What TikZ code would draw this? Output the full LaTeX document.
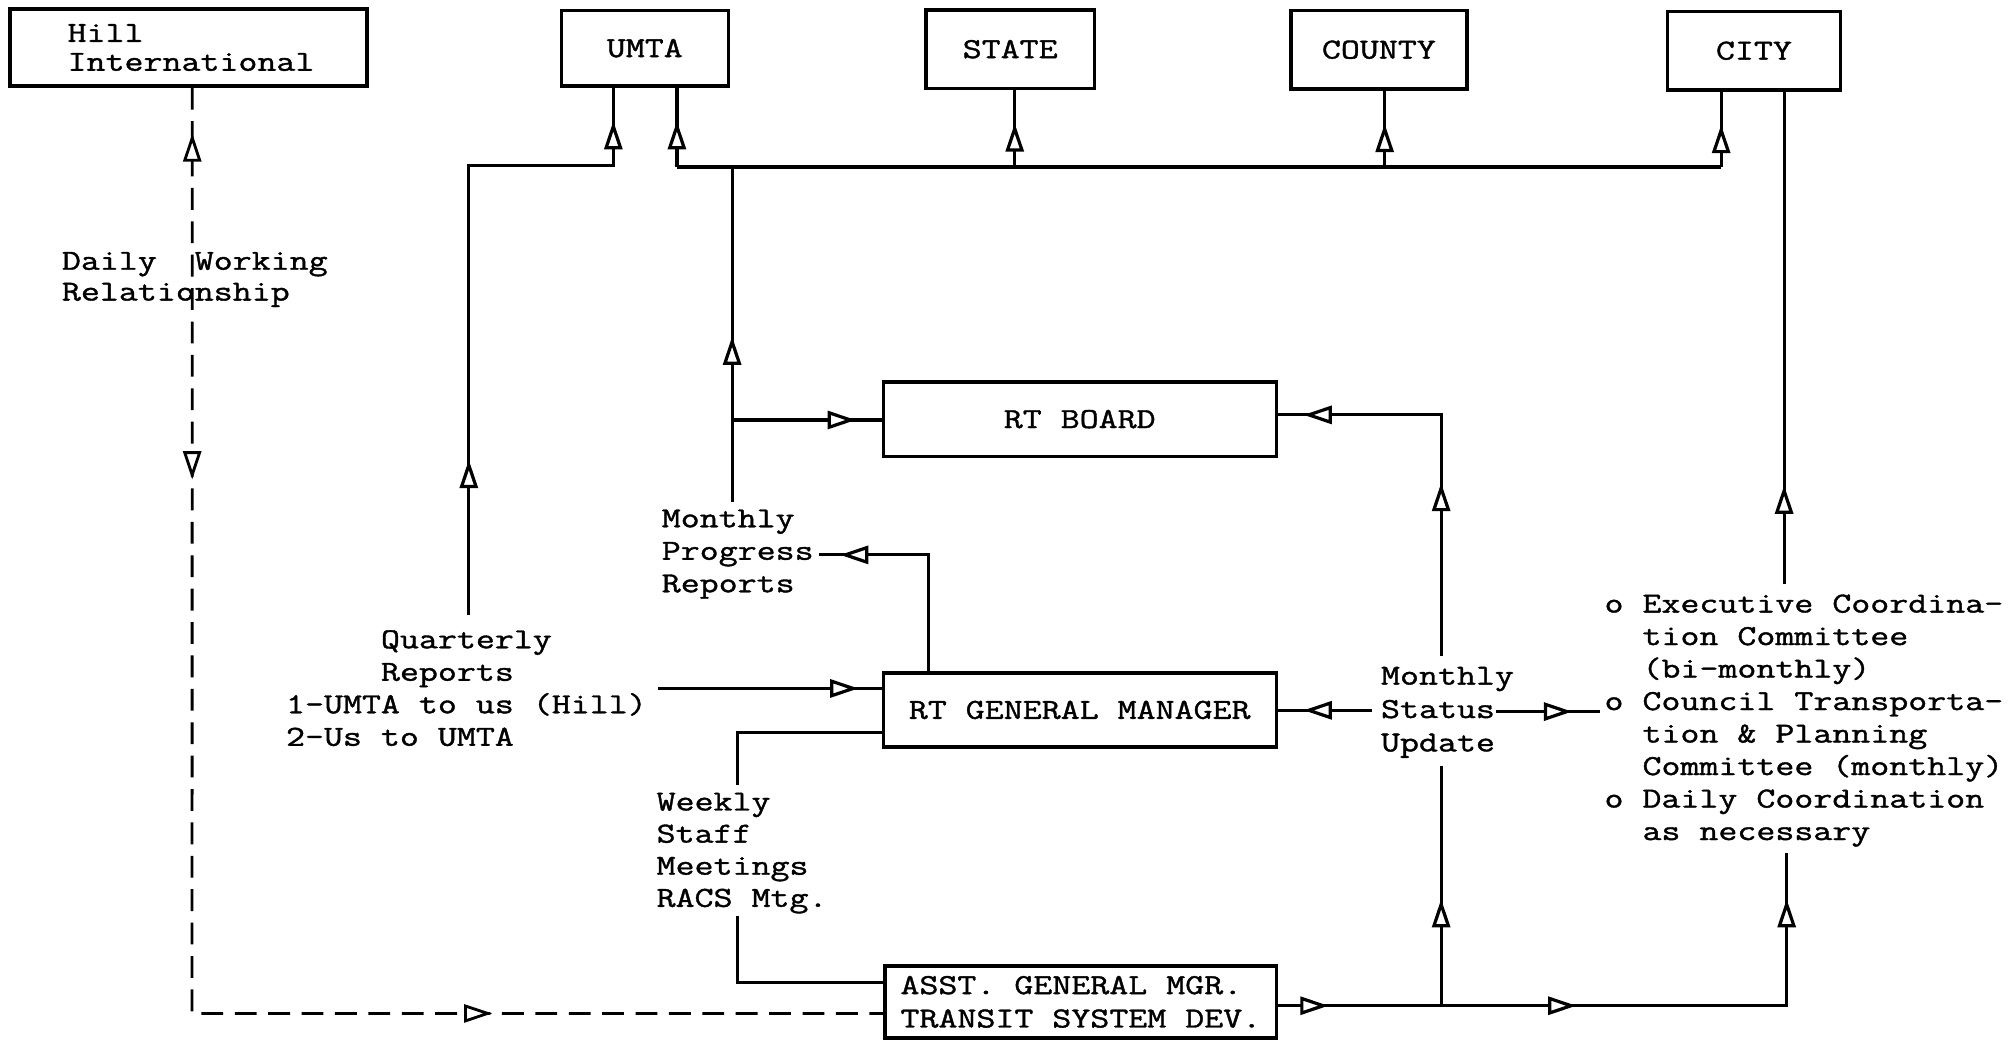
\documentclass[tikz,border=0pt]{standalone}
\usepackage{fontspec}
\setmonofont[FakeStretch=1.27,FakeBold=1.3]{Latin Modern Mono}
\usetikzlibrary{arrows.meta,decorations.markings}
\newcommand{\tfont}[1]{\ttfamily\fontsize{22.6pt}{#1}\selectfont}
\begin{document}
\begin{tikzpicture}[x=1pt,y=-1pt,
  txt/.style={font=\tfont{25.3pt}, inner sep=0pt, align=left},
  box/.style={draw, line width=2.6pt, inner sep=0pt, font=\tfont{25.3pt}, align=left},
  conn/.style={line width=2.5pt},
  dconn/.style={line width=2.2pt, dash pattern=on 17pt off 9pt},
  fw/.style={postaction={decorate,decoration={markings,mark=at position #1 with {\arrow[solid]{Triangle[fill=white,length=22pt,width=14pt]}}}}},
  bw/.style={postaction={decorate,decoration={markings,mark=at position #1 with {\arrowreversed[solid]{Triangle[fill=white,length=22pt,width=14pt]}}}}},
]
\fill[white] (0,0) rectangle (1568,809);
\useasboundingbox (0,0) rectangle (1568,809);

% boxes
\node[box, minimum width=278pt, minimum height=60pt, font=\tfont{22.5pt}] (hill) at (146.7,37) {\hspace*{4pt}Hill\\\hspace*{4pt}International};
\node[box, minimum width=130pt, minimum height=59pt] (umta) at (502,37.5) {UMTA};
\node[box, minimum width=131pt, minimum height=61pt] (state) at (786.5,38.3) {STATE};
\node[box, minimum width=137pt, minimum height=61pt] (county) at (1073.5,38.7) {COUNTY};
\node[box, minimum width=135pt, minimum height=61pt] (city) at (1365.5,39.5) {CITY};
\node[box, minimum width=306pt, minimum height=58pt] (board) at (840.6,326.3) {RT BOARD};
\node[box, minimum width=306pt, minimum height=57.5pt] (gm) at (840.6,552.7) {RT GENERAL MANAGER};
\node[box, minimum width=305pt, minimum height=56pt, font=\tfont{26pt}] (asst) at (841.5,780) {ASST. GENERAL MGR.\\TRANSIT SYSTEM DEV.};

% labels (anchor = baseline of the last line)
\node[txt, anchor=base west, font=\tfont{24pt}] (dwr) at (48,234) {Daily\hphantom{xx}Working\\Relationship};
\node[txt, anchor=base west] (qr) at (222.5,580.6) {\hphantom{xxxxx}Quarterly\\\hphantom{xxxxx}Reports\\1-UMTA to us (Hill)\\2-Us to UMTA};
\node[txt, anchor=base west] (mprl) at (515,461.1) {Monthly\\Progress\\Reports};
\node[txt, anchor=base west, font=\tfont{25pt}] (wsm) at (511,706) {Weekly\\Staff\\Meetings\\RACS Mtg.};
\node[txt, anchor=base west, font=\tfont{26pt}] (msu) at (1075,585) {Monthly\\Status\\Update};
\node[txt, anchor=base west] (cmt) at (1249,654) {o Executive Coordina-\\\hphantom{xx}tion Committee\\\hphantom{xx}(bi-monthly)\\o Council Transporta-\\\hphantom{xx}tion \& Planning\\\hphantom{xx}Committee (monthly)\\o Daily Coordination\\\hphantom{xx}as necessary};

% free ends / bends
\coordinate (hc) at (149.5,789);
\coordinate (qtop) at (365,479);
\coordinate (qbend) at (365,129);
\coordinate (ubend) at (477.5,129);
\coordinate (bus0) at (527,130);
\coordinate (bus1) at (790,130);
\coordinate (bus2) at (1078,130);
\coordinate (bus3) at (1340,130);
\coordinate (mtop) at (570,391);
\coordinate (mtopb) at (570,130);
\coordinate (mbr) at (570,327);
\coordinate (pbend) at (723,432);
\coordinate (pend) at (638,432);
\coordinate (qend) at (512.6,536);
\coordinate (wtop) at (574,611);
\coordinate (wbend1) at (574,570);
\coordinate (wbot) at (574,713);
\coordinate (wbend2) at (574,765);
\coordinate (sup) at (1122,511);
\coordinate (sbend) at (1122,323);
\coordinate (sl) at (1068,553);
\coordinate (sr) at (1165,554);
\coordinate (cend) at (1246,554);
\coordinate (sdown) at (1122,596);
\coordinate (sjoin) at (1122,783);
\coordinate (abend) at (1391,783);
\coordinate (dcn) at (1391,664);
\coordinate (exc) at (1389,455);

% connectors
\draw[dconn, bw=35.5pt, fw=305pt, fw=954.5pt] ([xshift=3pt]hill.south) -- (hc) -- (asst.west |- hc);
\draw[conn, fw=121pt, fw=-26pt] (qtop) -- (qbend) -- (ubend) -- ([xshift=-24.5pt]umta.south);
\draw[conn] (bus0) -- (bus3);
\draw[conn, fw=-26pt] (bus0) -- ([xshift=25pt]umta.south);
\draw[conn, fw=-26pt] (bus1) -- ([xshift=3.5pt]state.south);
\draw[conn, fw=-26pt] (bus2) -- ([xshift=4.5pt]county.south);
\draw[conn, fw=-26pt] (bus3) -- ([xshift=-25.5pt]city.south);
\draw[conn, fw=129pt] (mtop) -- (mtopb);
\draw[conn, fw=-20pt] (mbr) -- (board.west |- mbr);
\draw[conn, fw=-16pt] (gm.north -| pbend) -- (pbend) -- (pend);
\draw[conn, fw=-18pt] (qend) -- (gm.west |- qend);
\draw[conn] (gm.west |- wbend1) -- (wbend1) -- (wtop);
\draw[conn] (wbot) -- (wbend2) -- (asst.west |- wbend2);
\draw[conn, fw=135pt, fw=-20pt] (sup) -- (sbend) -- (board.east |- sbend);
\draw[conn, fw=-20pt] (sl) -- (gm.east |- sl);
\draw[conn, fw=-22pt] (sr) -- (cend);
\draw[conn, fw=39pt, fw=232pt, fw=-36pt] (asst.east |- sjoin) -- (abend) -- (dcn);
\draw[conn, fw=83pt] (sjoin) -- (sdown);
\draw[conn, fw=77pt] (exc) -- ([xshift=23.5pt]city.south);
\end{tikzpicture}
\end{document}
